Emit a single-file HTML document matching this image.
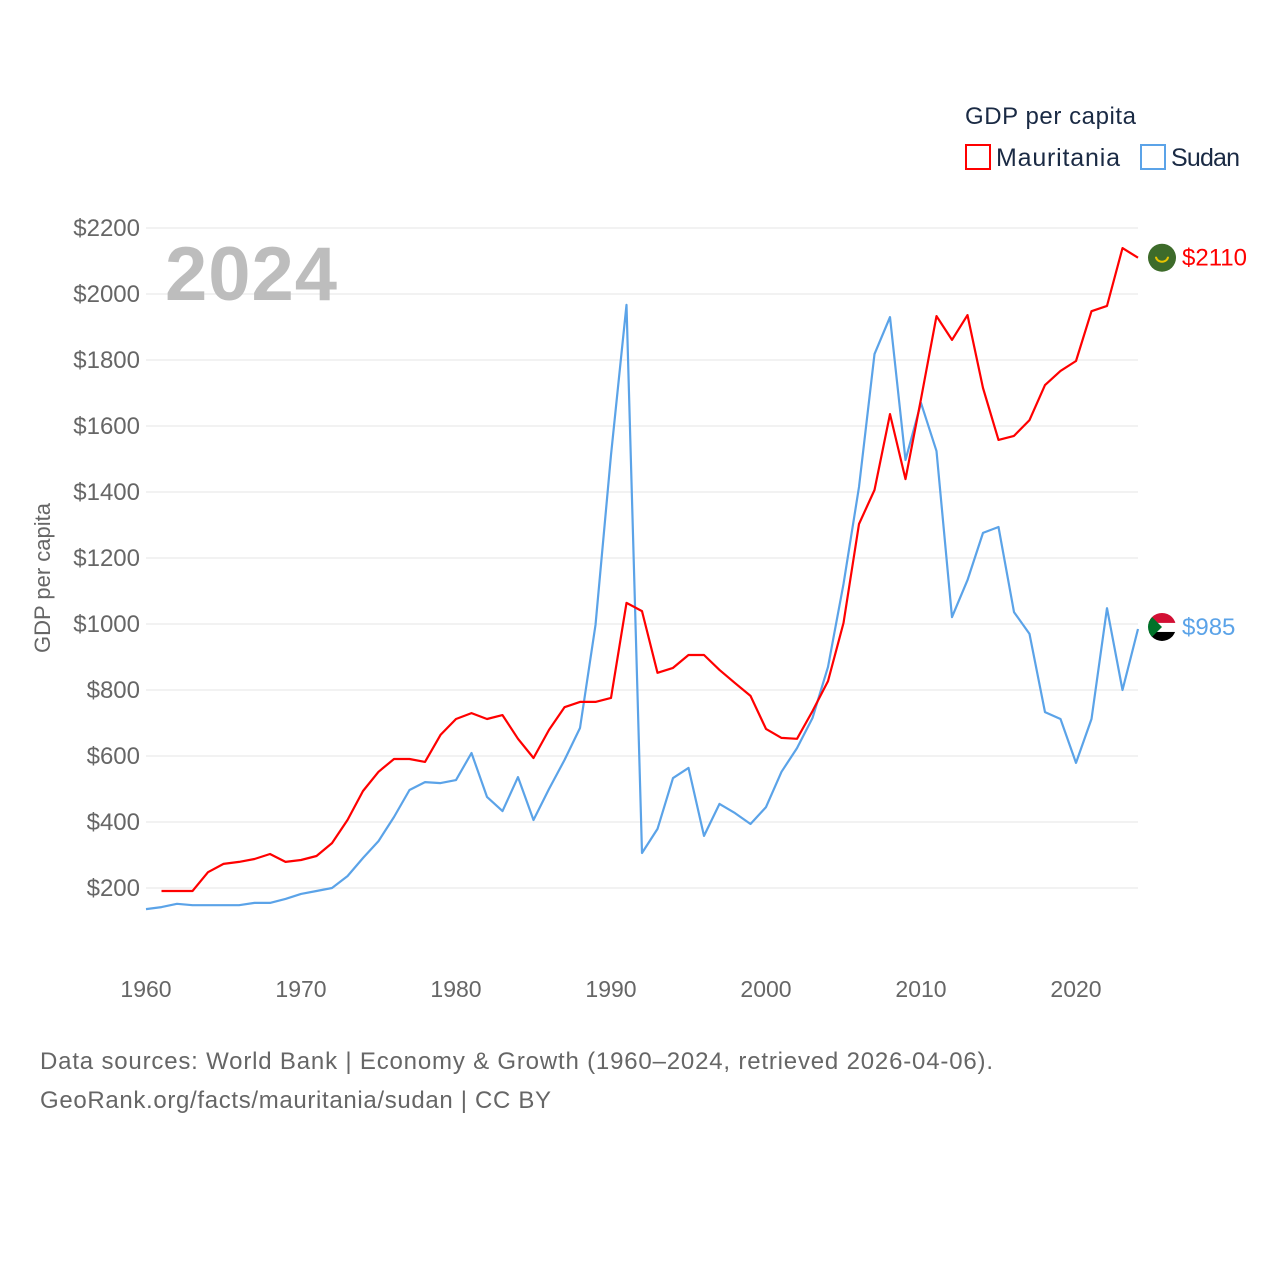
<!DOCTYPE html>
<html><head><meta charset="utf-8"><style>
body{margin:0;background:#fff;font-family:"Liberation Sans",sans-serif;}
svg text{font-family:"Liberation Sans",sans-serif;}
</style></head><body>
<svg id="chart" width="1280" height="1280" viewBox="0 0 1280 1280" xmlns="http://www.w3.org/2000/svg">
<rect width="1280" height="1280" fill="#fff"/>
<g id="grid"></g>
<g id="yticks"></g>
<g id="xticks"></g>
<text x="165" y="300" font-size="76" font-weight="bold" fill="#bdbdbd" textLength="172">2024</text>
<text transform="translate(50,578) rotate(-90)" text-anchor="middle" font-size="22" fill="#666">GDP per capita</text>
<g id="series"></g>
<g>
<text x="965" y="124" font-size="24" fill="#1a2a44" textLength="171">GDP per capita</text>
<rect x="966" y="145" width="24" height="24" fill="none" stroke="#ff0000" stroke-width="2"/>
<text x="996" y="166" font-size="25" fill="#1a2a44" textLength="124">Mauritania</text>
<rect x="1141" y="145" width="24" height="24" fill="none" stroke="#5ba3e8" stroke-width="2"/>
<text x="1171" y="166" font-size="25" fill="#1a2a44" textLength="69">Sudan</text>
</g>
<text x="40" y="1069" font-size="24" fill="#666" textLength="953">Data sources: World Bank | Economy &amp; Growth (1960–2024, retrieved 2026-04-06).</text>
<text x="40" y="1108" font-size="24" fill="#666" textLength="511">GeoRank.org/facts/mauritania/sudan | CC BY</text>
</svg>
<script>
const yTicks=[200,400,600,800,1000,1200,1400,1600,1800,2000,2200];
const xTicks=[1960,1970,1980,1990,2000,2010,2020];
const mauYears=[];for(let y=1961;y<=2024;y++)mauYears.push(y);
const mauritania=[191,191,191,248,273,279,288,303,279,285,297,336,406,494,552,591,591,582,664,712,730,712,724,652,594,679,748,764,764,776,1064,1039,852,867,906,906,861,821,782,682,655,652,736,827,1003,1303,1406,1636,1439,1682,1933,1861,1936,1715,1558,1570,1618,1724,1767,1797,1948,1964,2139,2110];
const sudYears=[];for(let y=1960;y<=2024;y++)sudYears.push(y);
const sudan=[136,142,152,148,148,148,148,155,155,167,182,191,200,236,291,342,415,497,521,518,527,609,476,433,536,406,500,588,685,997,1512,1967,306,379,533,564,358,455,427,394,445,552,624,715,870,1121,1415,1818,1930,1497,1670,1524,1021,1133,1276,1294,1036,970,733,712,579,712,1048,800,985];
const NS='http://www.w3.org/2000/svg';
const X=yr=>146+(yr-1960)*15.5;
const Y=v=>888-(v-200)*0.33;
function mk(tag,attrs,parent){const e=document.createElementNS(NS,tag);for(const k in attrs)e.setAttribute(k,attrs[k]);parent.appendChild(e);return e;}
const grid=document.getElementById('grid'),yt=document.getElementById('yticks'),xt=document.getElementById('xticks'),ser=document.getElementById('series');
yTicks.forEach(v=>{
 const l=mk('line',{x1:146,x2:1138,y1:Y(v),y2:Y(v),stroke:'#e6e6e6','stroke-width':1},grid);
 
 
 const t=mk('text',{x:140,y:Y(v)+8,'text-anchor':'end','font-size':24,fill:'#666'},yt);
 t.textContent='$'+v;
 
 
});
xTicks.forEach(v=>{
 const t=mk('text',{x:X(v),y:997,'text-anchor':'middle','font-size':23,fill:'#666'},xt);
 t.textContent=v;
 
 
});
function line(years,vals,color,name){
 const d=vals.map((v,i)=>(i?'L':'M')+X(years[i]).toFixed(1)+','+Y(v).toFixed(1)).join('');
 const p=mk('path',{d:d,fill:'none',stroke:color,'stroke-width':2.2,'stroke-linejoin':'round'},ser);
 
 
}
line(sudYears,sudan,'#5ba3e8','sudan-line');
line(mauYears,mauritania,'#ff0000','mauritania-line');
const mv=mauritania[mauritania.length-1],sv=sudan[sudan.length-1];
const f1=mk('circle',{cx:1162,cy:Y(mv),r:14,fill:'#3d6b2a'},ser);


const c1=mk('path',{d:`M1156,${Y(mv)-1} a6,5 0 0,0 12,0`,fill:'none',stroke:'#e8c400','stroke-width':2},ser);


const l1=mk('text',{x:1182,y:Y(mv)+8,'font-size':24,fill:'#ff0000'},ser);
l1.textContent='$'+mv;


const sy=Y(sv)-2;
const g=mk('g',{},ser);


mk('defs',{},g).innerHTML=`<clipPath id="fc"><circle cx="1162" cy="${sy}" r="14"/></clipPath>`;
const gg=mk('g',{'clip-path':'url(#fc)'},g);
mk('rect',{x:1148,y:sy-14,width:28,height:10,fill:'#d21034'},gg);
mk('rect',{x:1148,y:sy-4,width:28,height:9,fill:'#fff'},gg);
mk('rect',{x:1148,y:sy+5,width:28,height:10,fill:'#000'},gg);
mk('path',{d:`M1148,${sy-14}L1162,${sy}L1148,${sy+14}Z`,fill:'#007229'},gg);
const l2=mk('text',{x:1182,y:sy+8,'font-size':24,fill:'#5ba3e8'},ser);
l2.textContent='$'+sv;


</script>
</body></html>
